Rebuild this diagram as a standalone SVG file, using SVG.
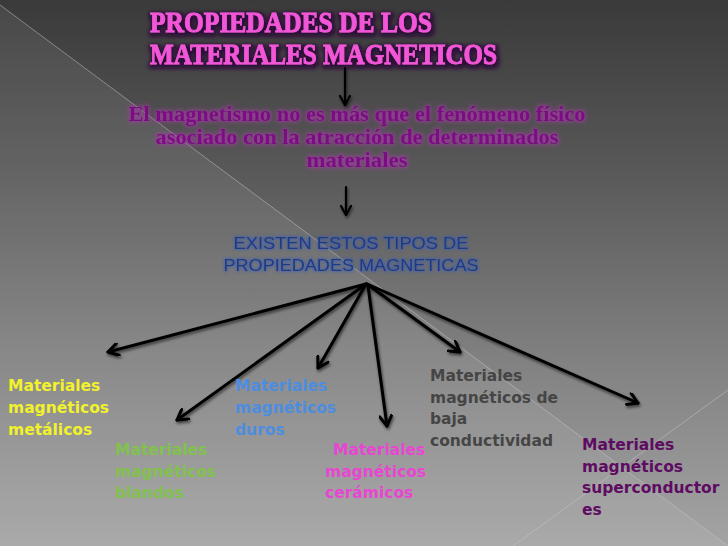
<svg xmlns="http://www.w3.org/2000/svg" width="728" height="546" viewBox="0 0 728 546">
<defs>
  <linearGradient id="bg" x1="0" y1="0" x2="0" y2="1">
    <stop offset="0" stop-color="#3a3a3a"/>
    <stop offset="0.3" stop-color="#575757"/>
    <stop offset="0.65" stop-color="#808080"/>
    <stop offset="1" stop-color="#a4a4a4"/>
  </linearGradient>
  <filter id="fTitle" x="-10%" y="-40%" width="120%" height="180%">
    <feMorphology in="SourceAlpha" operator="dilate" radius="1.5" result="d"/>
    <feGaussianBlur in="d" stdDeviation="2" result="b"/>
    <feFlood flood-color="#2a0a36"/>
    <feComposite in2="b" operator="in" result="s"/>
    <feOffset in="s" dx="1" dy="2" result="o"/>
    <feMerge><feMergeNode in="o"/><feMergeNode in="SourceGraphic"/></feMerge>
  </filter>
  <filter id="fGlowP" x="-10%" y="-40%" width="120%" height="180%">
    <feMorphology in="SourceAlpha" operator="dilate" radius="1" result="d"/>
    <feGaussianBlur in="d" stdDeviation="2" result="b"/>
    <feFlood flood-color="#a63aa6" flood-opacity="0.75"/>
    <feComposite in2="b" operator="in" result="s"/>
    <feMerge><feMergeNode in="s"/><feMergeNode in="SourceGraphic"/></feMerge>
  </filter>
  <filter id="fGlowB" x="-10%" y="-40%" width="120%" height="180%">
    <feMorphology in="SourceAlpha" operator="dilate" radius="0.8" result="d"/>
    <feGaussianBlur in="d" stdDeviation="1.8" result="b"/>
    <feFlood flood-color="#3a5ab0" flood-opacity="0.6"/>
    <feComposite in2="b" operator="in" result="s"/>
    <feMerge><feMergeNode in="s"/><feMergeNode in="SourceGraphic"/></feMerge>
  </filter>
  <filter id="fShadow" x="-10%" y="-10%" width="120%" height="130%">
    <feGaussianBlur in="SourceAlpha" stdDeviation="1.6" result="b"/>
    <feOffset in="b" dx="1" dy="2" result="o"/>
    <feComponentTransfer in="o" result="s"><feFuncA type="linear" slope="0.6"/></feComponentTransfer>
    <feMerge><feMergeNode in="s"/><feMergeNode in="SourceGraphic"/></feMerge>
  </filter>
  <marker id="ah" viewBox="0 0 14 14" refX="12" refY="7" markerWidth="14" markerHeight="14" orient="auto" markerUnits="userSpaceOnUse">
    <path d="M2,1 L12,7 L2,13" fill="none" stroke="#000" stroke-width="3" stroke-linecap="round" stroke-linejoin="round"/>
  </marker>
  <marker id="ahs" viewBox="0 0 12 12" refX="11" refY="6" markerWidth="12" markerHeight="12" orient="auto" markerUnits="userSpaceOnUse">
    <path d="M2,1 L11,6 L2,11" fill="none" stroke="#000" stroke-width="2.2" stroke-linecap="round" stroke-linejoin="round"/>
  </marker>
</defs>
<style>
  .title { font-family: "Liberation Serif", "DejaVu Serif", serif; font-weight: bold; font-size: 30px; fill: #f257d8; stroke: #f257d8; stroke-width: 0.9px; }
  .para { font-family: "Liberation Serif", "DejaVu Serif", serif; font-weight: bold; font-size: 21px; fill: #7a0a82; text-anchor: middle; }
  .blue { font-family: "Liberation Sans", Arial, sans-serif; font-size: 17px; fill: #1c3a86; text-anchor: middle; }
  .lbl { font-family: "DejaVu Sans", "Liberation Sans", sans-serif; font-weight: bold; font-size: 15.5px; }
  .conn line { stroke: #000; stroke-width: 3; stroke-linecap: round; fill: none; }
  .bgline { stroke: #c8c8c8; stroke-width: 1; opacity: 0.5; }
</style>

<rect x="0" y="0" width="728" height="546" fill="url(#bg)"/>
<polygon points="0,5 728,546 0,546" fill="#ffffff" opacity="0.07"/>
<line class="bgline" x1="0" y1="5" x2="728" y2="546"/>
<line class="bgline" x1="728" y1="390" x2="513" y2="546"/>

<g id="title" filter="url(#fTitle)">
  <text class="title" x="150" y="32" textLength="282" lengthAdjust="spacingAndGlyphs">PROPIEDADES DE LOS</text>
  <text class="title" x="150" y="64" textLength="347" lengthAdjust="spacingAndGlyphs">MATERIALES MAGNETICOS</text>
</g>

<g id="definicion" filter="url(#fGlowP)">
  <text class="para" x="357" y="121" textLength="457" lengthAdjust="spacingAndGlyphs">El magnetismo no es más que el fenómeno físico</text>
  <text class="para" x="357" y="144" textLength="403" lengthAdjust="spacingAndGlyphs">asociado con la atracción de determinados</text>
  <text class="para" x="357" y="167" textLength="101" lengthAdjust="spacingAndGlyphs">materiales</text>
</g>

<g id="tipos" filter="url(#fGlowB)">
  <text class="blue" x="351" y="249" textLength="235" lengthAdjust="spacingAndGlyphs">EXISTEN ESTOS TIPOS DE</text>
  <text class="blue" x="351" y="271" textLength="255" lengthAdjust="spacingAndGlyphs">PROPIEDADES MAGNETICAS</text>
</g>

<g id="connectors" class="conn">
  <g filter="url(#fShadow)">
    <line x1="345" y1="68" x2="345" y2="105" style="stroke-width:2.2" marker-end="url(#ahs)"/>
    <line x1="346" y1="187" x2="346" y2="215" style="stroke-width:2.2" marker-end="url(#ahs)"/>
    <line x1="366" y1="284" x2="108" y2="352" marker-end="url(#ah)"/>
    <line x1="366" y1="284" x2="177" y2="420" marker-end="url(#ah)"/>
    <line x1="366" y1="284" x2="318" y2="368" marker-end="url(#ah)"/>
    <line x1="368" y1="286" x2="387" y2="426" marker-end="url(#ah)"/>
    <line x1="367" y1="284" x2="460" y2="352" marker-end="url(#ah)"/>
    <line x1="367" y1="284" x2="638" y2="403" marker-end="url(#ah)"/>
  </g>
</g>

<g id="metalicos" class="lbl" fill="#f2f22a">
  <text x="8" y="391">Materiales</text>
  <text x="8" y="413">magnéticos</text>
  <text x="8" y="435">metálicos</text>
</g>
<g id="blandos" class="lbl" fill="#82c14e">
  <text x="115" y="455">Materiales</text>
  <text x="115" y="477">magnéticos</text>
  <text x="115" y="498">blandos</text>
</g>
<g id="duros" class="lbl" fill="#4d8de0">
  <text x="235" y="391">Materiales</text>
  <text x="235" y="413">magnéticos</text>
  <text x="235" y="435">duros</text>
</g>
<g id="ceramicos" class="lbl" fill="#e846d2">
  <text x="333" y="455">Materiales</text>
  <text x="325" y="477">magnéticos</text>
  <text x="325" y="498">cerámicos</text>
</g>
<g id="baja" class="lbl" fill="#454545">
  <text x="430" y="381">Materiales</text>
  <text x="430" y="403">magnéticos de</text>
  <text x="430" y="424">baja</text>
  <text x="430" y="446">conductividad</text>
</g>
<g id="superconductores" class="lbl" fill="#5e0c62">
  <text x="582" y="450">Materiales</text>
  <text x="582" y="472">magnéticos</text>
  <text x="582" y="493">superconductor</text>
  <text x="582" y="515">es</text>
</g>
</svg>
